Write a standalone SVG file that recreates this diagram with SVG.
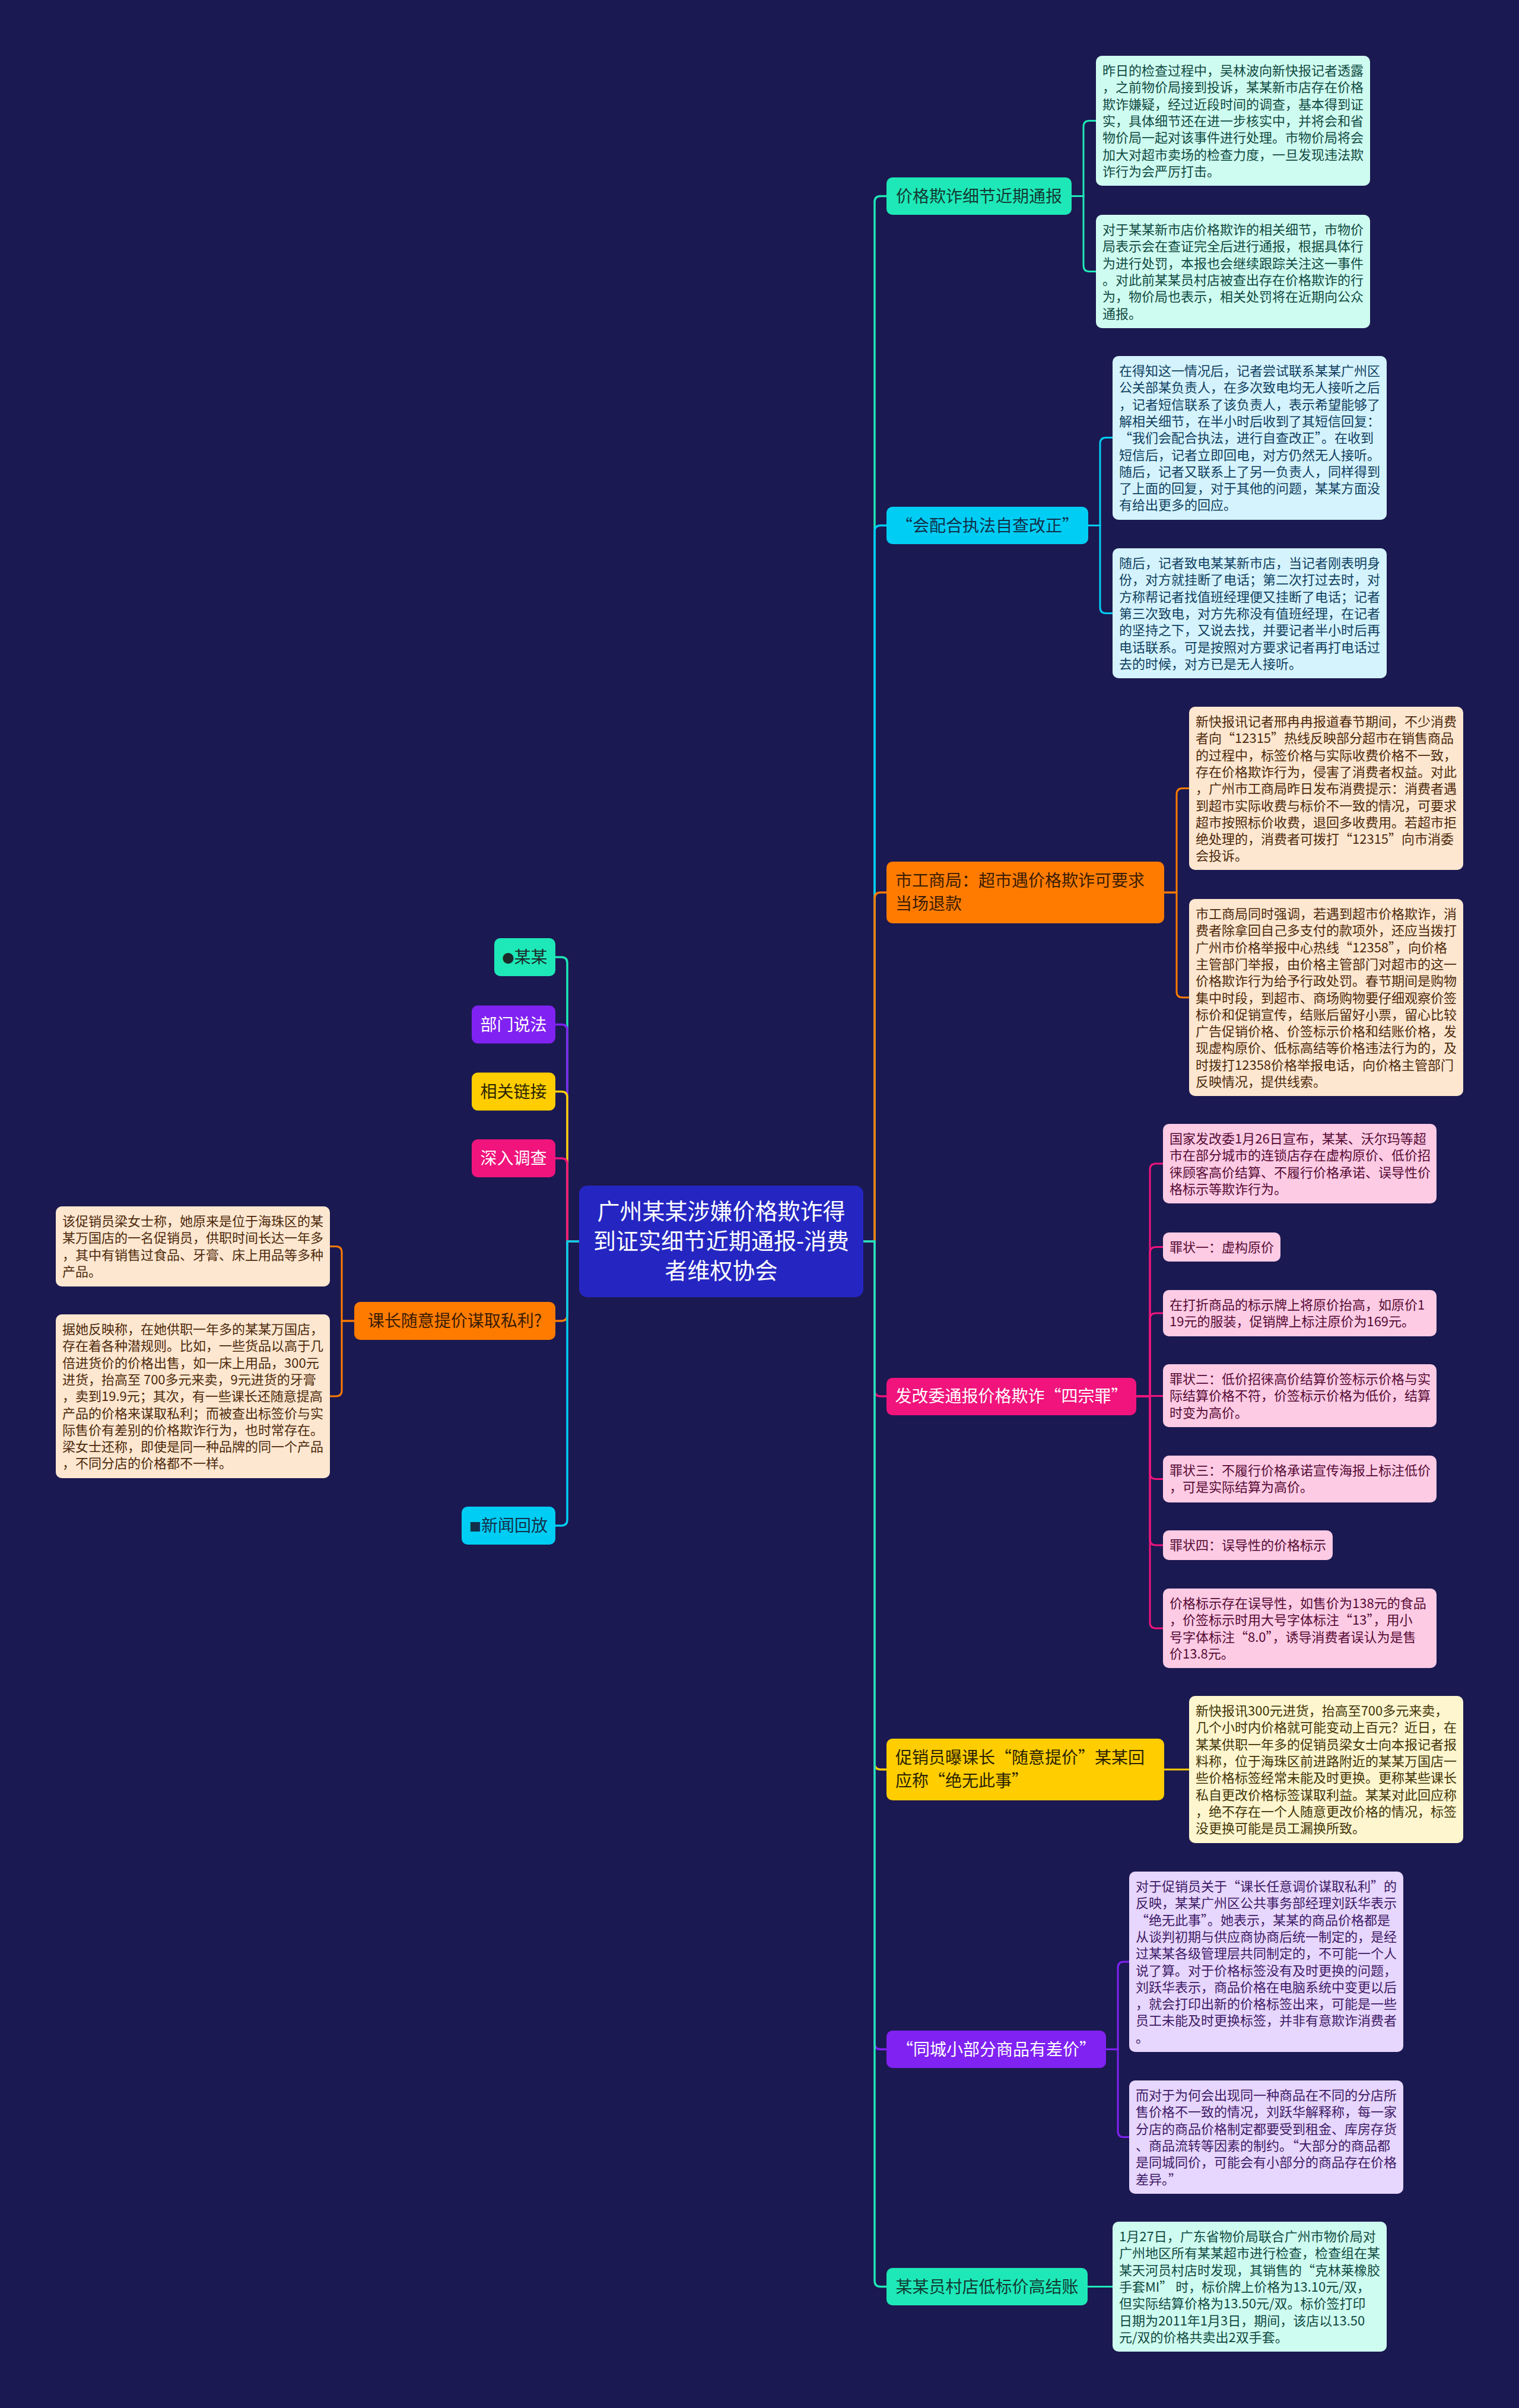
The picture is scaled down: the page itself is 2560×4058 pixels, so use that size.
<svg xmlns="http://www.w3.org/2000/svg" width="2560" height="4058" viewBox="0 0 2560 4058">
<style>
text{font-family:"Noto Sans CJK SC","Noto Sans",sans-serif}
.l1{font-size:28px}
.l2{font-size:22px}
.c{stroke-width:3.5;fill:none;stroke-linecap:round}
.s{stroke-width:3;fill:none;stroke-linecap:round}
.teal{fill:#1ee8b7}.cyan{fill:#00cdf4}.orange{fill:#ff7b00}.pink{fill:#f0147c}.yellow{fill:#ffcd00}.purple{fill:#8022f2}
.tealL{fill:#cffcf0}.cyanL{fill:#d4f3fd}.orangeL{fill:#fee7d0}.pinkL{fill:#fdcbe4}.yellowL{fill:#fef6cf}.purpleL{fill:#e7d6fd}
.tT{fill:#0f4a42}.cT{fill:#0f4060}.oT{fill:#4d2a0c}.pT{fill:#560a34}.yT{fill:#423508}.uT{fill:#3e1a66}
.dk{fill:#1c2a2a}.wh{fill:#ffffff}
</style>
<rect x="0" y="0" width="2560" height="4058" fill="#1b1951"/>

<g id="connectors">
<!-- left main -->
<path class="c" stroke="#1ee8b7" d="M976 2092 H956 V1623 Q956 1613 946 1613 H936"/>
<path class="c" stroke="#8022f2" d="M976 2092 H956 V1736.5 Q956 1726.5 946 1726.5 H936"/>
<path class="c" stroke="#ffcd00" d="M976 2092 H956 V1849.5 Q956 1839.5 946 1839.5 H936"/>
<path class="c" stroke="#f0147c" d="M976 2092 H956 V1962 Q956 1952 946 1952 H936"/>
<path class="c" stroke="#ff7b00" d="M976 2092 H956 V2216 Q956 2226 946 2226 H936"/>
<path class="c" stroke="#00cdf4" d="M976 2092 H956 V2561 Q956 2571 946 2571 H936"/>
<!-- right main -->
<path class="c" stroke="#1ee8b7" d="M1455 2092 H1474 V340.5 Q1474 330.5 1484 330.5 H1494"/>
<path class="c" stroke="#00cdf4" d="M1455 2092 H1474 V895.5 Q1474 885.5 1484 885.5 H1494"/>
<path class="c" stroke="#ff7b00" d="M1455 2092 H1474 V1514 Q1474 1504 1484 1504 H1494"/>
<path class="c" stroke="#f0147c" d="M1455 2092 H1474 V2343 Q1474 2353 1484 2353 H1494"/>
<path class="c" stroke="#ffcd00" d="M1455 2092 H1474 V2972 Q1474 2982 1484 2982 H1494"/>
<path class="c" stroke="#8022f2" d="M1455 2092 H1474 V3443.5 Q1474 3453.5 1484 3453.5 H1494"/>
<path class="c" stroke="#1ee8b7" d="M1455 2092 H1474 V3843.5 Q1474 3853.5 1484 3853.5 H1494"/>
<!-- sub -->
<path class="s" stroke="#1ee8b7" d="M1806 330.5 H1826 V213.5 Q1826 203.5 1836 203.5 H1847"/>
<path class="s" stroke="#1ee8b7" d="M1806 330.5 H1826 V447.5 Q1826 457.5 1836 457.5 H1847"/>
<path class="s" stroke="#00cdf4" d="M1834 885.5 H1854 V747.5 Q1854 737.5 1864 737.5 H1875"/>
<path class="s" stroke="#00cdf4" d="M1834 885.5 H1854 V1023.5 Q1854 1033.5 1864 1033.5 H1875"/>
<path class="s" stroke="#ff7b00" d="M1962 1504 H1983 V1338.5 Q1983 1328.5 1993 1328.5 H2004"/>
<path class="s" stroke="#ff7b00" d="M1962 1504 H1983 V1671 Q1983 1681 1993 1681 H2004"/>
<path class="s" stroke="#f0147c" d="M1915 2353 H1938 V1971 Q1938 1961 1948 1961 H1960"/>
<path class="s" stroke="#f0147c" d="M1915 2353 H1938 V2111.5 Q1938 2101.5 1948 2101.5 H1960"/>
<path class="s" stroke="#f0147c" d="M1915 2353 H1938 V2223 Q1938 2213 1948 2213 H1960"/>
<path class="s" stroke="#f0147c" d="M1915 2352.5 H1960"/>
<path class="s" stroke="#f0147c" d="M1915 2353 H1938 V2482.5 Q1938 2492.5 1948 2492.5 H1960"/>
<path class="s" stroke="#f0147c" d="M1915 2353 H1938 V2594 Q1938 2604 1948 2604 H1960"/>
<path class="s" stroke="#f0147c" d="M1915 2353 H1938 V2734 Q1938 2744 1948 2744 H1960"/>
<path class="s" stroke="#ffcd00" d="M1962 2982 H2004"/>
<path class="s" stroke="#8022f2" d="M1864 3453.5 H1884 V3316 Q1884 3306 1894 3306 H1903"/>
<path class="s" stroke="#8022f2" d="M1864 3453.5 H1884 V3591.5 Q1884 3601.5 1894 3601.5 H1903"/>
<path class="s" stroke="#1ee8b7" d="M1833 3853.5 H1875"/>
<path class="s" stroke="#ff7b00" d="M597 2226 H576 V2110.5 Q576 2100.5 566 2100.5 H556"/>
<path class="s" stroke="#ff7b00" d="M597 2226 H576 V2343 Q576 2353 566 2353 H556"/>
</g>

<g id="center">
<rect x="976" y="1998" width="479" height="188" rx="14" fill="#2526c2"/>
<text x="1215.5" y="2055" font-size="38" class="wh" text-anchor="middle">广州某某涉嫌价格欺诈得</text>
<text x="1215.5" y="2105" font-size="38" class="wh" text-anchor="middle">到证实细节近期通报-消费</text>
<text x="1215.5" y="2155" font-size="38" class="wh" text-anchor="middle">者维权协会</text>
</g>

<!-- left level 1 -->
<g id="n-mm"><rect x="833" y="1581" width="103" height="64" rx="10" class="teal"/><text x="884.5" y="1623" class="l1 dk" text-anchor="middle"><tspan font-size="20">●</tspan>某某</text></g>
<g id="n-bmsf"><rect x="795" y="1694.5" width="141" height="64" rx="10" class="purple"/><text x="865.5" y="1736.5" class="l1 wh" text-anchor="middle">部门说法</text></g>
<g id="n-xglj"><rect x="795" y="1807.5" width="141" height="64" rx="10" class="yellow"/><text x="865.5" y="1849.5" class="l1" fill="#2a2300" text-anchor="middle">相关链接</text></g>
<g id="n-srdc"><rect x="795" y="1920" width="141" height="64" rx="10" class="pink"/><text x="865.5" y="1962" class="l1 wh" text-anchor="middle">深入调查</text></g>
<g id="n-kz"><rect x="597" y="2194" width="339" height="64" rx="10" class="orange"/><text x="766.5" y="2236" class="l1" fill="#3a1c00" text-anchor="middle">课长随意提价谋取私利?</text></g>
<g id="n-xwhf"><rect x="778" y="2539" width="158" height="64" rx="10" class="cyan"/><text x="857" y="2581" class="l1" fill="#12304a" text-anchor="middle"><tspan font-size="20">■</tspan>新闻回放</text></g>

<!-- left level 2 -->
<g id="n-kz1"><rect x="94" y="2033" width="462" height="135" rx="10" class="orangeL"/>
<text class="l2 oT" y="2066"><tspan x="105">该促销员梁女士称，她原来是位于海珠区的某</tspan><tspan x="105" dy="28.3">某万国店的一名促销员，供职时间长达一年多</tspan><tspan x="105" dy="28.3">，其中有销售过食品、牙膏、床上用品等多种</tspan><tspan x="105" dy="28.3">产品。</tspan></text></g>
<g id="n-kz2"><rect x="94" y="2215" width="462" height="276" rx="10" class="orangeL"/>
<text class="l2 oT" y="2248"><tspan x="105">据她反映称，在她供职一年多的某某万国店，</tspan><tspan x="105" dy="28.3">存在着各种潜规则。比如，一些货品以高于几</tspan><tspan x="105" dy="28.3">倍进货价的价格出售，如一床上用品，300元</tspan><tspan x="105" dy="28.3">进货，抬高至 700多元来卖，9元进货的牙膏</tspan><tspan x="105" dy="28.3">，卖到19.9元；其次，有一些课长还随意提高</tspan><tspan x="105" dy="28.3">产品的价格来谋取私利；而被查出标签价与实</tspan><tspan x="105" dy="28.3">际售价有差别的价格欺诈行为，也时常存在。</tspan><tspan x="105" dy="28.3">梁女士还称，即使是同一种品牌的同一个产品</tspan><tspan x="105" dy="28.3">，不同分店的价格都不一样。</tspan></text></g>

<!-- right level 1 -->
<g id="n-jg"><rect x="1494" y="299" width="312" height="63" rx="10" class="teal"/><text x="1650" y="340.5" class="l1" fill="#123a34" text-anchor="middle">价格欺诈细节近期通报</text></g>
<g id="n-hph"><rect x="1494" y="854" width="340" height="63" rx="10" class="cyan"/><text x="1664" y="895.5" class="l1" fill="#12304a" text-anchor="middle">“会配合执法自查改正”</text></g>
<g id="n-gsj"><rect x="1494" y="1452" width="468" height="104" rx="10" class="orange"/><text class="l1" fill="#3a1c00" y="1494"><tspan x="1509">市工商局：超市遇价格欺诈可要求</tspan><tspan x="1509" dy="39">当场退款</tspan></text></g>
<g id="n-fgw"><rect x="1494" y="2322" width="421" height="63" rx="10" class="pink"/><text x="1704.5" y="2363" class="l1 wh" text-anchor="middle">发改委通报价格欺诈“四宗罪”</text></g>
<g id="n-cxy"><rect x="1494" y="2930" width="468" height="104" rx="10" class="yellow"/><text class="l1" fill="#2a2300" y="2972"><tspan x="1509">促销员曝课长“随意提价”某某回</tspan><tspan x="1509" dy="39">应称“绝无此事”</tspan></text></g>
<g id="n-tc"><rect x="1494" y="3422" width="370" height="63" rx="10" class="purple"/><text x="1679" y="3463.5" class="l1 wh" text-anchor="middle">“同城小部分商品有差价”</text></g>
<g id="n-yc"><rect x="1494" y="3822" width="339" height="63" rx="10" class="teal"/><text x="1663.5" y="3863.5" class="l1" fill="#123a34" text-anchor="middle">某某员村店低标价高结账</text></g>

<!-- right level 2 -->
<g id="n-jg1"><rect x="1847" y="94" width="462" height="219" rx="10" class="tealL"/>
<text class="l2 tT" y="127"><tspan x="1858">昨日的检查过程中，吴林波向新快报记者透露</tspan><tspan x="1858" dy="28.3">，之前物价局接到投诉，某某新市店存在价格</tspan><tspan x="1858" dy="28.3">欺诈嫌疑，经过近段时间的调查，基本得到证</tspan><tspan x="1858" dy="28.3">实，具体细节还在进一步核实中，并将会和省</tspan><tspan x="1858" dy="28.3">物价局一起对该事件进行处理。市物价局将会</tspan><tspan x="1858" dy="28.3">加大对超市卖场的检查力度，一旦发现违法欺</tspan><tspan x="1858" dy="28.3">诈行为会严厉打击。</tspan></text></g>
<g id="n-jg2"><rect x="1847" y="362" width="462" height="191" rx="10" class="tealL"/>
<text class="l2 tT" y="395"><tspan x="1858">对于某某新市店价格欺诈的相关细节，市物价</tspan><tspan x="1858" dy="28.3">局表示会在查证完全后进行通报，根据具体行</tspan><tspan x="1858" dy="28.3">为进行处罚，本报也会继续跟踪关注这一事件</tspan><tspan x="1858" dy="28.3">。对此前某某员村店被查出存在价格欺诈的行</tspan><tspan x="1858" dy="28.3">为，物价局也表示，相关处罚将在近期向公众</tspan><tspan x="1858" dy="28.3">通报。</tspan></text></g>

<g id="n-hph1"><rect x="1875" y="600" width="462" height="276" rx="10" class="cyanL"/>
<text class="l2 cT" y="633"><tspan x="1886">在得知这一情况后，记者尝试联系某某广州区</tspan><tspan x="1886" dy="28.3">公关部某负责人，在多次致电均无人接听之后</tspan><tspan x="1886" dy="28.3">，记者短信联系了该负责人，表示希望能够了</tspan><tspan x="1886" dy="28.3">解相关细节，在半小时后收到了其短信回复：</tspan><tspan x="1886" dy="28.3">“我们会配合执法，进行自查改正”。在收到</tspan><tspan x="1886" dy="28.3">短信后，记者立即回电，对方仍然无人接听。</tspan><tspan x="1886" dy="28.3">随后，记者又联系上了另一负责人，同样得到</tspan><tspan x="1886" dy="28.3">了上面的回复，对于其他的问题，某某方面没</tspan><tspan x="1886" dy="28.3">有给出更多的回应。</tspan></text></g>
<g id="n-hph2"><rect x="1875" y="924" width="462" height="219" rx="10" class="cyanL"/>
<text class="l2 cT" y="957"><tspan x="1886">随后，记者致电某某新市店，当记者刚表明身</tspan><tspan x="1886" dy="28.3">份，对方就挂断了电话；第二次打过去时，对</tspan><tspan x="1886" dy="28.3">方称帮记者找值班经理便又挂断了电话；记者</tspan><tspan x="1886" dy="28.3">第三次致电，对方先称没有值班经理，在记者</tspan><tspan x="1886" dy="28.3">的坚持之下，又说去找，并要记者半小时后再</tspan><tspan x="1886" dy="28.3">电话联系。可是按照对方要求记者再打电话过</tspan><tspan x="1886" dy="28.3">去的时候，对方已是无人接听。</tspan></text></g>

<g id="n-gsj1"><rect x="2004" y="1191" width="462" height="275" rx="10" class="orangeL"/>
<text class="l2 oT" y="1224"><tspan x="2015">新快报讯记者邢冉冉报道春节期间，不少消费</tspan><tspan x="2015" dy="28.3">者向“12315”热线反映部分超市在销售商品</tspan><tspan x="2015" dy="28.3">的过程中，标签价格与实际收费价格不一致，</tspan><tspan x="2015" dy="28.3">存在价格欺诈行为，侵害了消费者权益。对此</tspan><tspan x="2015" dy="28.3">，广州市工商局昨日发布消费提示：消费者遇</tspan><tspan x="2015" dy="28.3">到超市实际收费与标价不一致的情况，可要求</tspan><tspan x="2015" dy="28.3">超市按照标价收费，退回多收费用。若超市拒</tspan><tspan x="2015" dy="28.3">绝处理的，消费者可拨打“12315”向市消委</tspan><tspan x="2015" dy="28.3">会投诉。</tspan></text></g>
<g id="n-gsj2"><rect x="2004" y="1515" width="462" height="332" rx="10" class="orangeL"/>
<text class="l2 oT" y="1548"><tspan x="2015">市工商局同时强调，若遇到超市价格欺诈，消</tspan><tspan x="2015" dy="28.3">费者除拿回自己多支付的款项外，还应当拨打</tspan><tspan x="2015" dy="28.3">广州市价格举报中心热线“12358”，向价格</tspan><tspan x="2015" dy="28.3">主管部门举报，由价格主管部门对超市的这一</tspan><tspan x="2015" dy="28.3">价格欺诈行为给予行政处罚。春节期间是购物</tspan><tspan x="2015" dy="28.3">集中时段，到超市、商场购物要仔细观察价签</tspan><tspan x="2015" dy="28.3">标价和促销宣传，结账后留好小票，留心比较</tspan><tspan x="2015" dy="28.3">广告促销价格、价签标示价格和结账价格，发</tspan><tspan x="2015" dy="28.3">现虚构原价、低标高结等价格违法行为的，及</tspan><tspan x="2015" dy="28.3">时拨打12358价格举报电话，向价格主管部门</tspan><tspan x="2015" dy="28.3">反映情况，提供线索。</tspan></text></g>

<g id="n-fgw1"><rect x="1960" y="1894" width="461" height="134" rx="10" class="pinkL"/>
<text class="l2 pT" y="1927"><tspan x="1971">国家发改委1月26日宣布，某某、沃尔玛等超</tspan><tspan x="1971" dy="28.3">市在部分城市的连锁店存在虚构原价、低价招</tspan><tspan x="1971" dy="28.3">徕顾客高价结算、不履行价格承诺、误导性价</tspan><tspan x="1971" dy="28.3">格标示等欺诈行为。</tspan></text></g>
<g id="n-fgw2"><rect x="1960" y="2077" width="198" height="49" rx="10" class="pinkL"/>
<text class="l2 pT" x="1971" y="2110">罪状一：虚构原价</text></g>
<g id="n-fgw3"><rect x="1960" y="2174" width="461" height="78" rx="10" class="pinkL"/>
<text class="l2 pT" y="2207"><tspan x="1971">在打折商品的标示牌上将原价抬高，如原价1</tspan><tspan x="1971" dy="28.3">19元的服装，促销牌上标注原价为169元。</tspan></text></g>
<g id="n-fgw4"><rect x="1960" y="2299" width="461" height="106" rx="10" class="pinkL"/>
<text class="l2 pT" y="2332"><tspan x="1971">罪状二：低价招徕高价结算价签标示价格与实</tspan><tspan x="1971" dy="28.3">际结算价格不符，价签标示价格为低价，结算</tspan><tspan x="1971" dy="28.3">时变为高价。</tspan></text></g>
<g id="n-fgw5"><rect x="1960" y="2453" width="461" height="79" rx="10" class="pinkL"/>
<text class="l2 pT" y="2486"><tspan x="1971">罪状三：不履行价格承诺宣传海报上标注低价</tspan><tspan x="1971" dy="28.3">，可是实际结算为高价。</tspan></text></g>
<g id="n-fgw6"><rect x="1960" y="2579" width="286" height="50" rx="10" class="pinkL"/>
<text class="l2 pT" x="1971" y="2612">罪状四：误导性的价格标示</text></g>
<g id="n-fgw7"><rect x="1960" y="2677" width="461" height="134" rx="10" class="pinkL"/>
<text class="l2 pT" y="2710"><tspan x="1971">价格标示存在误导性，如售价为138元的食品</tspan><tspan x="1971" dy="28.3">，价签标示时用大号字体标注“13”，用小</tspan><tspan x="1971" dy="28.3">号字体标注“8.0”，诱导消费者误认为是售</tspan><tspan x="1971" dy="28.3">价13.8元。</tspan></text></g>

<g id="n-cxy1"><rect x="2004" y="2858" width="462" height="248" rx="10" class="yellowL"/>
<text class="l2 yT" y="2891"><tspan x="2015">新快报讯300元进货，抬高至700多元来卖，</tspan><tspan x="2015" dy="28.3">几个小时内价格就可能变动上百元？近日，在</tspan><tspan x="2015" dy="28.3">某某供职一年多的促销员梁女士向本报记者报</tspan><tspan x="2015" dy="28.3">料称，位于海珠区前进路附近的某某万国店一</tspan><tspan x="2015" dy="28.3">些价格标签经常未能及时更换。更称某些课长</tspan><tspan x="2015" dy="28.3">私自更改价格标签谋取利益。某某对此回应称</tspan><tspan x="2015" dy="28.3">，绝不存在一个人随意更改价格的情况，标签</tspan><tspan x="2015" dy="28.3">没更换可能是员工漏换所致。</tspan></text></g>

<g id="n-tc1"><rect x="1903" y="3154" width="462" height="304" rx="10" class="purpleL"/>
<text class="l2 uT" y="3187"><tspan x="1914">对于促销员关于“课长任意调价谋取私利”的</tspan><tspan x="1914" dy="28.3">反映，某某广州区公共事务部经理刘跃华表示</tspan><tspan x="1914" dy="28.3">“绝无此事”。她表示，某某的商品价格都是</tspan><tspan x="1914" dy="28.3">从谈判初期与供应商协商后统一制定的，是经</tspan><tspan x="1914" dy="28.3">过某某各级管理层共同制定的，不可能一个人</tspan><tspan x="1914" dy="28.3">说了算。对于价格标签没有及时更换的问题，</tspan><tspan x="1914" dy="28.3">刘跃华表示，商品价格在电脑系统中变更以后</tspan><tspan x="1914" dy="28.3">，就会打印出新的价格标签出来，可能是一些</tspan><tspan x="1914" dy="28.3">员工未能及时更换标签，并非有意欺诈消费者</tspan><tspan x="1914" dy="28.3">。</tspan></text></g>
<g id="n-tc2"><rect x="1903" y="3506" width="462" height="191" rx="10" class="purpleL"/>
<text class="l2 uT" y="3539"><tspan x="1914">而对于为何会出现同一种商品在不同的分店所</tspan><tspan x="1914" dy="28.3">售价格不一致的情况，刘跃华解释称，每一家</tspan><tspan x="1914" dy="28.3">分店的商品价格制定都要受到租金、库房存货</tspan><tspan x="1914" dy="28.3">、商品流转等因素的制约。“大部分的商品都</tspan><tspan x="1914" dy="28.3">是同城同价，可能会有小部分的商品存在价格</tspan><tspan x="1914" dy="28.3">差异。”</tspan></text></g>

<g id="n-yc1"><rect x="1875" y="3744" width="462" height="219" rx="10" class="tealL"/>
<text class="l2 tT" y="3777"><tspan x="1886">1月27日，广东省物价局联合广州市物价局对</tspan><tspan x="1886" dy="28.3">广州地区所有某某超市进行检查，检查组在某</tspan><tspan x="1886" dy="28.3">某天河员村店时发现，其销售的“克林莱橡胶</tspan><tspan x="1886" dy="28.3">手套MI” 时，标价牌上价格为13.10元/双，</tspan><tspan x="1886" dy="28.3">但实际结算价格为13.50元/双。标价签打印</tspan><tspan x="1886" dy="28.3">日期为2011年1月3日，期间，该店以13.50</tspan><tspan x="1886" dy="28.3">元/双的价格共卖出2双手套。</tspan></text></g>
</svg>
